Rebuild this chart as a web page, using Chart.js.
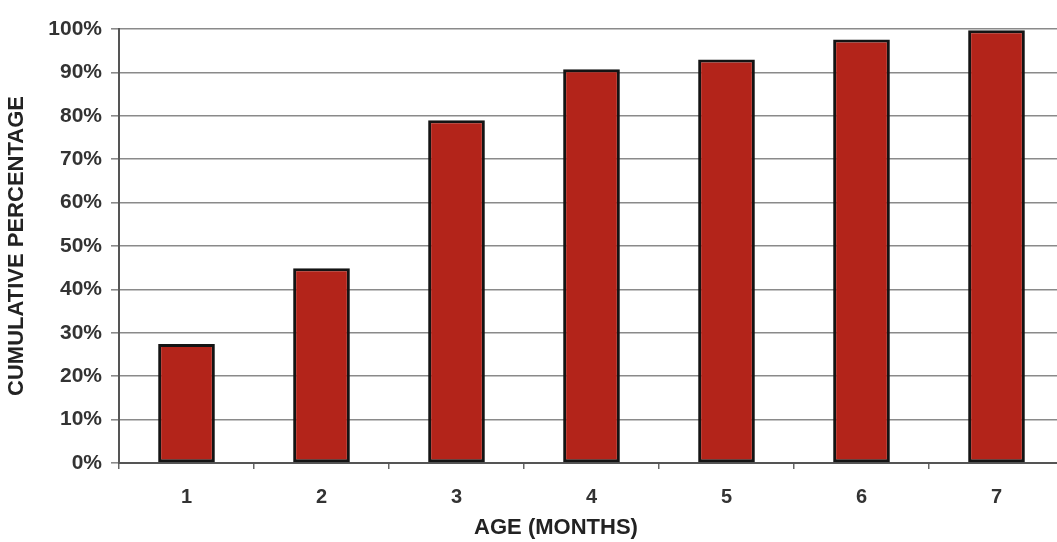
<!DOCTYPE html>
<html>
<head>
<meta charset="utf-8">
<script src="https://cdn.jsdelivr.net/npm/chart.js@4.4.1/dist/chart.umd.min.js"></script>
<style>
  html, body { margin: 0; padding: 0; background: #ffffff; overflow: hidden; }
  #wrap { width: 1075px; height: 542px; }
</style>
</head>
<body>
<div id="wrap"><canvas id="c" width="1075" height="542"></canvas></div>
<script>
// Age in months and the cumulative share reached by each month (%)
const ageMonths = ['1', '2', '3', '4', '5', '6', '7'];
const cumulativePct = [27.4, 44.9, 79.0, 90.7, 93.0, 97.6, 99.7];
const yTicks = [0, 10, 20, 30, 40, 50, 60, 70, 80, 90, 100];
const xTitle = 'AGE (MONTHS)';
const yTitle = 'CUMULATIVE PERCENTAGE';

const fam = 'Arial, "Liberation Sans", sans-serif';
const labelFont = { family: fam, size: 20, weight: 'bold' };

// x-axis title, drawn under the tick labels slightly left of the plot centre
const xTitlePlugin = {
  id: 'xTitle',
  afterDraw(chart) {
    const ctx = chart.ctx;
    ctx.save();
    ctx.font = 'bold 22px ' + fam;
    ctx.fillStyle = '#222';
    ctx.textAlign = 'center';
    ctx.textBaseline = 'middle';
    ctx.fillText(xTitle, 556, 528);
    ctx.restore();
  }
};

new Chart(document.getElementById('c'), {
  type: 'bar',
  data: {
    labels: ageMonths,
    datasets: [{
      data: cumulativePct,
      backgroundColor: '#b3241a',
      borderColor: '#141414',
      borderWidth: 3,
      borderSkipped: false,
      categoryPercentage: 1.0,
      barPercentage: 0.42
    }]
  },
  plugins: [xTitlePlugin],
  options: {
    responsive: false,
    animation: false,
    devicePixelRatio: 1,
    layout: { padding: { top: 29, right: 11, bottom: 0, left: 0 } },
    plugins: { legend: { display: false }, tooltip: { enabled: false } },
    scales: {
      x: {
        offset: true,
        grid: { display: true, drawOnChartArea: false, drawTicks: true, tickLength: 6, color: '#666', lineWidth: 1.5, offset: true },
        border: { display: true, color: '#555', width: 2 },
        ticks: { color: '#333', font: labelFont, padding: 16 },
        afterFit: (s) => { s.height = 79; }
      },
      y: {
        min: 0,
        max: 100,
        afterBuildTicks: (s) => { s.ticks = yTicks.map(v => ({ value: v })); },
        grid: { color: '#8a8a8a', lineWidth: 1.6, tickLength: 8 },
        border: { display: true, color: '#555', width: 2 },
        ticks: { color: '#333', font: { family: fam, size: 21, weight: 'bold' }, padding: 9, callback: (v) => v + '%' },
        title: { display: true, text: yTitle, color: '#222', font: { family: fam, size: 22, weight: 'bold' }, padding: { top: 4, bottom: 0 } },
        afterFit: (s) => { s.width = 119; }
      }
    }
  }
});
</script>
</body>
</html>
